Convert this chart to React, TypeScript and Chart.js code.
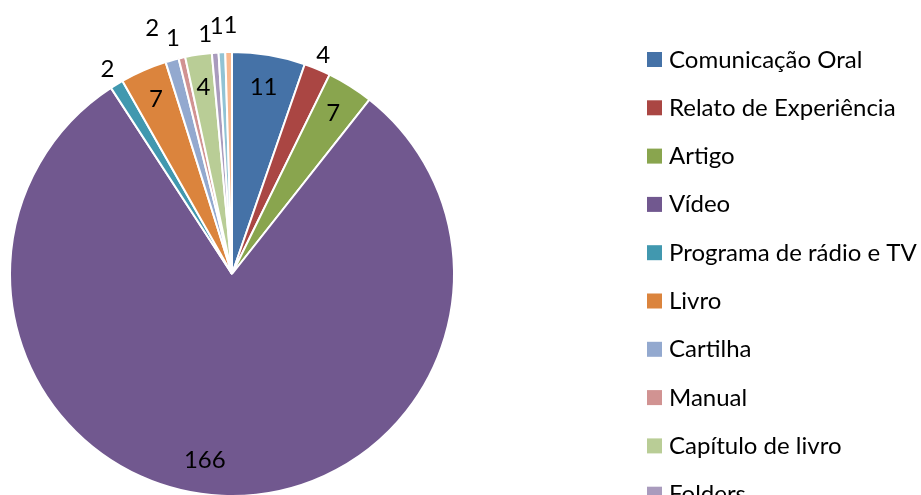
import React, { useEffect, useRef } from "react";
import { Chart, registerables } from "chart.js";

Chart.register(...registerables);

const categories = [
  "Comunicação Oral",
  "Relato de Experiência",
  "Artigo",
  "Vídeo",
  "Programa de rádio e TV",
  "Livro",
  "Cartilha",
  "Manual",
  "Capítulo de livro",
  "Folders",
  "Cartaz",
  "Outros",
];
const values = [11, 4, 7, 166, 2, 7, 2, 1, 4, 1, 1, 1];
const colors = [
  "#4572A7",
  "#AA4643",
  "#89A54E",
  "#71588F",
  "#4198AF",
  "#DB843D",
  "#93A9CF",
  "#D19392",
  "#B9CD96",
  "#A99BBD",
  "#92C3D4",
  "#F9B88E",
];
// label placement (style): radius factor relative to outer radius, and angle nudge in degrees
const labelRadius = [0.856, 1.07, 0.856, 0.847, 1.08, 0.86, 1.165, 1.095, 0.85, 1.09, 1.12, 1.12];
const labelAngleNudge = [0, 0, 0, 5.7, 0, 0, -2.3, -1, 0, -2, -0.9, 0.5];

const FONT = "Lato, 'Open Sans', sans-serif";

const valueLabelPlugin = {
  id: "valueLabels",
  afterDatasetsDraw(chart: any) {
    const ctx = chart.ctx;
    const meta = chart.getDatasetMeta(0);
    ctx.save();
    ctx.font = `24px ${FONT}`;
    ctx.fillStyle = "#000";
    ctx.textAlign = "center";
    ctx.textBaseline = "alphabetic";
    meta.data.forEach((arc: any, i: number) => {
      const p = arc.getProps(["x", "y", "startAngle", "endAngle", "outerRadius"], true);
      const mid = (p.startAngle + p.endAngle) / 2 + (labelAngleNudge[i] * Math.PI) / 180;
      const r = p.outerRadius * labelRadius[i];
      const lx = p.x + Math.cos(mid) * r;
      const ly = p.y + Math.sin(mid) * r;
      ctx.fillText(String(values[i]), lx, ly + 8);
    });
    ctx.restore();
  },
};

const legendPlugin = {
  id: "sideLegend",
  afterDraw(chart: any) {
    const ctx = chart.ctx;
    ctx.save();
    ctx.font = `24px ${FONT}`;
    ctx.textAlign = "left";
    ctx.textBaseline = "alphabetic";
    const x0 = 647;
    const y0 = 59.5;
    const step = 48.3;
    categories.forEach((name, i) => {
      const cy = y0 + i * step;
      ctx.fillStyle = colors[i];
      ctx.fillRect(x0, cy - 7.5, 15, 15);
      ctx.fillStyle = "#000";
      ctx.fillText(name, x0 + 22, cy + 8);
    });
    ctx.restore();
  },
};

export default function App() {
  const ref = useRef<HTMLCanvasElement | null>(null);
  useEffect(() => {
    if (!ref.current) return;
    const chart = new Chart(ref.current, {
      type: "pie",
      data: {
        labels: categories,
        datasets: [
          {
            data: values,
            backgroundColor: colors,
            borderColor: "#ffffff",
            borderWidth: 2,
          },
        ],
      },
      options: {
        responsive: false,
        animation: false,
        devicePixelRatio: 1,
        layout: { padding: { left: 9, top: 51, right: 466, bottom: 3 } },
        plugins: {
          legend: { display: false },
          tooltip: { enabled: false },
          title: { display: false },
        },
      },
      plugins: [valueLabelPlugin, legendPlugin],
    });
    return () => chart.destroy();
  }, []);
  return (
    <div style={{ position: "fixed", left: 0, top: 0, width: 921, height: 500, background: "#fff" }}>
      <canvas ref={ref} width={921} height={500} style={{ display: "block" }} />
    </div>
  );
}
